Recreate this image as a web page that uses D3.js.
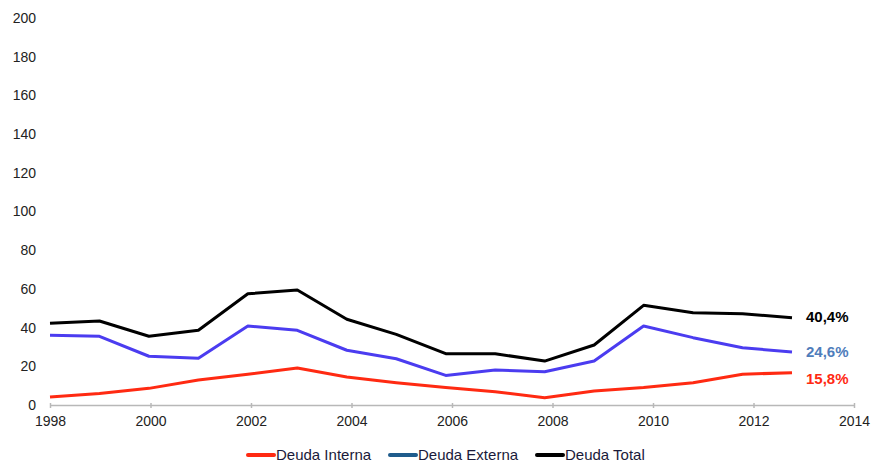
<!DOCTYPE html>
<html>
<head>
<meta charset="utf-8">
<script src="https://cdn.jsdelivr.net/npm/d3@7"></script>
<style>
  body { margin: 0; background: #fff; }
  text { font-family: "Liberation Sans", Arial, sans-serif; }
</style>
</head>
<body>
<svg id="chart" width="872" height="463"></svg>
<script>
// Data
var years = [1998, 1999, 2000, 2001, 2002, 2003, 2004, 2005, 2006, 2007, 2008, 2009, 2010, 2011, 2012, 2013];
var deudaInterna = [4.1, 5.9, 8.6, 12.9, 15.9, 19.1, 14.5, 11.5, 9.0, 6.9, 3.8, 7.2, 9.0, 11.5, 15.9, 16.7];
var deudaExterna = [36.0, 35.5, 25.2, 24.1, 40.8, 38.6, 28.3, 23.9, 15.3, 18.1, 17.2, 22.7, 40.8, 34.8, 29.6, 27.4];
var deudaTotal = [42.2, 43.4, 35.5, 38.6, 57.5, 59.4, 44.3, 36.5, 26.5, 26.5, 22.7, 31.0, 51.5, 47.7, 47.2, 45.1];
var yTicks = [0, 20, 40, 60, 80, 100, 120, 140, 160, 180, 200];
var xTicks = [1998, 2000, 2002, 2004, 2006, 2008, 2010, 2012, 2014];
var endLabels = ["15,8%", "24,6%", "40,4%"];
var seriesNames = ["Deuda Interna", "Deuda Externa", "Deuda Total"];

var svg = d3.select("#chart");

// y scale: 0 at the axis line, 200 at the top label
var y = d3.scaleLinear().domain([0, 200]).range([405, 18]);
// axis scale for the year ticks
var xAxisScale = d3.scaleLinear().domain([1998, 2014]).range([50, 854]);
// the points sit slightly tighter than the year ticks in the original
var xPts = d3.scalePoint().domain(years).range([50, 792]);

// x axis
var xAxis = d3.axisBottom(xAxisScale).tickValues(xTicks).tickFormat(d3.format("d"))
  .tickSize(5).tickSizeOuter(0);
var gx = svg.append("g").attr("transform", "translate(0,405)").call(xAxis);
gx.select(".domain").attr("stroke", "#b8b8b8").attr("stroke-width", 1.5);
gx.selectAll(".tick line").attr("stroke", "#b8b8b8").attr("stroke-width", 1.5)
  .attr("y1", -2).attr("y2", 3);
gx.selectAll(".tick text").attr("y", 11).attr("dy", "0.71em")
  .attr("font-size", 14).attr("fill", "#222");

// y axis labels only
var yAxis = d3.axisLeft(y).tickValues(yTicks).tickSize(0);
var gy = svg.append("g").attr("transform", "translate(36,0)").call(yAxis);
gy.select(".domain").remove();
gy.selectAll(".tick text").attr("x", 0).attr("font-size", 14).attr("fill", "#222");

// lines
var lineColors = ["#ff2a12", "#4b3cf0", "#000000"];
var labelColors = ["#ff2a12", "#4f7dbb", "#000000"];
var allSeries = [deudaInterna, deudaExterna, deudaTotal];

var line = d3.line()
  .x(function(d, i) { return xPts(years[i]); })
  .y(function(d) { return y(d); });

[2, 1, 0].forEach(function(k) {
  svg.append("path")
    .datum(allSeries[k])
    .attr("fill", "none")
    .attr("stroke", lineColors[k])
    .attr("stroke-width", 3)
    .attr("stroke-linejoin", "round")
    .attr("d", line);
});

// end labels
var labelY = [379, 352, 317];
endLabels.forEach(function(t, k) {
  svg.append("text")
    .attr("x", 806)
    .attr("y", labelY[k])
    .attr("dy", "0.35em")
    .attr("font-size", 15)
    .attr("font-weight", "bold")
    .attr("fill", labelColors[k])
    .text(t);
});

// legend
var legendColors = ["#ff2a12", "#1f5c8c", "#000000"];
var legendX = [248, 390, 537];
seriesNames.forEach(function(name, k) {
  var g = svg.append("g").attr("transform", "translate(" + legendX[k] + ",455)");
  g.append("line")
    .attr("x1", 0).attr("x2", 26).attr("y1", 0).attr("y2", 0)
    .attr("stroke", legendColors[k]).attr("stroke-width", 4)
    .attr("stroke-linecap", "round");
  g.append("text")
    .attr("x", 28).attr("y", 0).attr("dy", "0.35em")
    .attr("font-size", 15).attr("fill", "#1a1a3a")
    .text(name);
});
</script>
</body>
</html>
